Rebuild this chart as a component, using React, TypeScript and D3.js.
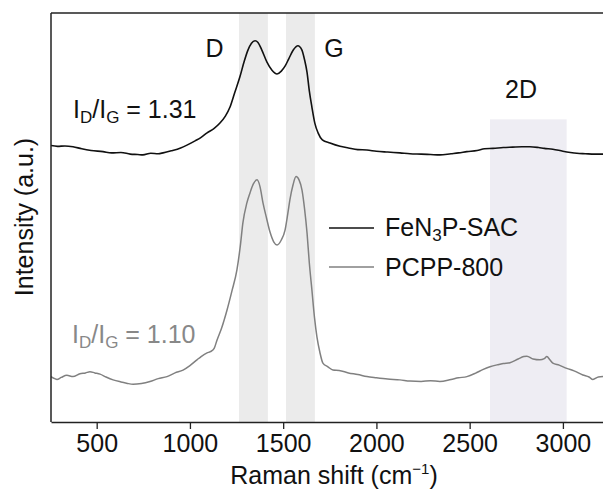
import React, { useEffect, useRef } from "react";
import * as d3 from "d3";

const W = 603;
const H = 493;

// Raman shift (cm^-1) and intensity (a.u., offset)
const fenWave = [255, 290, 330, 373, 420, 470, 534, 580, 630, 680, 720, 748, 790, 830, 856, 900, 950, 984, 1030, 1060, 1092, 1130, 1161, 1190, 1215, 1240, 1268, 1290, 1310, 1330, 1349, 1365, 1385, 1413, 1440, 1467, 1490, 1510, 1530, 1555, 1579, 1600, 1615, 1628, 1640, 1654, 1670, 1687, 1710, 1751, 1805, 1850, 1900, 1949, 2000, 2060, 2126, 2180, 2240, 2290, 2340, 2400, 2440, 2485, 2540, 2580, 2625, 2680, 2730, 2780, 2823, 2870, 2900, 2946, 3000, 3040, 3075, 3120, 3170, 3215];
const fenVal = [67.6, 67.4, 67.5, 67.3, 66.8, 66.4, 66.1, 65.8, 65.9, 65.5, 65.4, 65.3, 65.7, 65.6, 65.8, 66.3, 67.0, 67.7, 68.8, 69.6, 70.7, 71.8, 73.1, 74.8, 77.0, 80.5, 84.4, 88.0, 90.8, 92.6, 93.2, 92.8, 91.0, 88.0, 86.0, 85.1, 85.8, 87.0, 88.8, 91.0, 92.0, 91.0, 88.5, 85.5, 81.0, 77.0, 73.0, 70.7, 69.0, 68.2, 67.4, 67.0, 66.6, 66.5, 66.2, 66.0, 65.8, 65.6, 65.5, 65.4, 65.3, 65.6, 65.8, 66.1, 66.4, 66.8, 66.9, 67.1, 67.2, 67.3, 67.3, 67.1, 66.9, 66.7, 66.2, 65.9, 65.7, 65.6, 65.5, 65.5];

const pcppWave = [255, 275, 287, 310, 340, 373, 410, 440, 464, 490, 518, 550, 588, 630, 660, 695, 740, 786, 830, 877, 920, 963, 1000, 1038, 1060, 1092, 1110, 1130, 1145, 1170, 1199, 1225, 1252, 1270, 1284, 1305, 1322, 1340, 1360, 1376, 1392, 1410, 1429, 1450, 1467, 1490, 1510, 1525, 1536, 1553, 1569, 1585, 1601, 1615, 1628, 1640, 1654, 1668, 1681, 1697, 1713, 1740, 1767, 1800, 1850, 1900, 1949, 2000, 2060, 2126, 2180, 2240, 2290, 2340, 2400, 2440, 2485, 2530, 2570, 2609, 2650, 2680, 2716, 2760, 2790, 2807, 2840, 2877, 2900, 2914, 2930, 2946, 2980, 3021, 3060, 3107, 3140, 3161, 3190, 3215];
const pcppVal = [11.1, 10.6, 10.4, 10.9, 11.4, 11.1, 11.8, 12.0, 12.3, 12.0, 11.7, 11.0, 10.3, 9.8, 9.5, 9.2, 9.4, 9.9, 10.6, 11.1, 12.0, 12.7, 13.8, 15.2, 16.0, 16.9, 17.2, 18.0, 20.0, 23.0, 27.4, 32.0, 37.2, 43.0, 48.7, 53.5, 56.0, 58.2, 59.2, 57.5, 53.5, 50.0, 46.5, 44.0, 43.3, 44.5, 46.9, 51.0, 54.3, 58.0, 60.0, 59.2, 56.7, 52.0, 46.2, 39.0, 32.3, 25.5, 20.8, 17.0, 14.4, 13.5, 12.7, 12.6, 12.0, 11.6, 11.1, 10.8, 10.5, 10.3, 10.0, 9.9, 10.1, 9.9, 10.4, 10.8, 11.1, 11.9, 12.8, 13.5, 14.0, 14.3, 14.5, 15.4, 16.0, 16.1, 15.4, 15.2, 15.5, 16.0, 15.2, 14.4, 13.9, 13.1, 12.5, 11.5, 11.0, 10.4, 11.0, 11.1];

const xTicks = [500, 1000, 1500, 2000, 2500, 3000];
const bandD = [1263, 1418];
const bandG = [1515, 1670];
const band2D = [2609, 3020];
const band2DTop = 74; // intensity level where the 2D band ends

const seriesNames = ["FeN3P-SAC", "PCPP-800"];
const seriesColors = ["#111111", "#808080"];

const FONT = "'Liberation Sans', Arial, Helvetica, sans-serif";
const FS = 25;

export default function App() {
  const ref = useRef<SVGSVGElement>(null);

  useEffect(() => {
    const svg = d3.select(ref.current);
    svg.selectAll("*").remove();

    const left = 51, right = 603, top = 13, bottom = 422;
    const x = d3.scaleLinear().domain([255, 3215]).range([left, right]);
    const y = d3.scaleLinear().domain([0, 100]).range([bottom, top]);

    svg.append("defs").append("clipPath").attr("id", "plotclip")
      .append("rect").attr("x", left).attr("y", top).attr("width", right - left).attr("height", bottom - top);

    // bands
    svg.append("rect").attr("x", x(bandD[0])).attr("y", top).attr("width", x(bandD[1]) - x(bandD[0])).attr("height", bottom - top).attr("fill", "#ebebeb");
    svg.append("rect").attr("x", x(bandG[0])).attr("y", top).attr("width", x(bandG[1]) - x(bandG[0])).attr("height", bottom - top).attr("fill", "#ebebeb");
    svg.append("rect").attr("x", x(band2D[0])).attr("y", y(band2DTop)).attr("width", x(band2D[1]) - x(band2D[0])).attr("height", bottom - y(band2DTop)).attr("fill", "#eeedf3");

    const line = d3.line<[number, number]>().x(d => x(d[0])).y(d => y(d[1])).curve(d3.curveMonotoneX);
    const g = svg.append("g").attr("clip-path", "url(#plotclip)");
    const fen = fenWave.map((w, i) => [w, fenVal[i]] as [number, number]);
    const pc = pcppWave.map((w, i) => [w, pcppVal[i]] as [number, number]);
    g.append("path").attr("d", line(pc)).attr("fill", "none").attr("stroke", seriesColors[1]).attr("stroke-width", 1.5);
    g.append("path").attr("d", line(fen)).attr("fill", "none").attr("stroke", seriesColors[0]).attr("stroke-width", 1.6);

    // frame
    svg.append("line").attr("x1", left).attr("x2", right).attr("y1", top).attr("y2", top).attr("stroke", "#222").attr("stroke-width", 1.5);
    svg.append("line").attr("x1", left).attr("x2", left).attr("y1", top).attr("y2", bottom).attr("stroke", "#222").attr("stroke-width", 1.5);

    const ax = svg.append("g").attr("transform", `translate(0,${bottom})`)
      .call(d3.axisBottom(x).tickValues(xTicks).tickSize(7).tickSizeOuter(0).tickPadding(5).tickFormat(d3.format("d")));
    ax.select(".domain").attr("stroke", "#222").attr("stroke-width", 1.5);
    ax.selectAll(".tick line").attr("stroke", "#222").attr("stroke-width", 1.3);
    ax.selectAll(".tick text").attr("font-family", FONT).attr("font-size", FS).attr("fill", "#111");

    // axis titles
    const xt = svg.append("text").attr("x", 334).attr("y", 484).attr("text-anchor", "middle")
      .attr("font-family", FONT).attr("font-size", FS).attr("fill", "#111");
    xt.append("tspan").text("Raman shift (cm");
    xt.append("tspan").attr("font-size", 15).attr("dy", -10).text("\u22121");
    xt.append("tspan").attr("dy", 10).text(")");

    svg.append("text").attr("transform", "translate(33,217) rotate(-90)").attr("text-anchor", "middle")
      .attr("font-family", FONT).attr("font-size", FS).attr("fill", "#111").text("Intensity (a.u.)");

    // peak labels
    const lab = (t: string, cx: number, by: number) =>
      svg.append("text").attr("x", cx).attr("y", by).attr("text-anchor", "middle")
        .attr("font-family", FONT).attr("font-size", FS).attr("fill", "#111").text(t);
    lab("D", 214.5, 57);
    lab("G", 334, 57);
    lab("2D", 521, 98);

    // ratio annotations
    const ratio = (val: string, tx: number, by: number, color: string) => {
      const t = svg.append("text").attr("x", tx).attr("y", by)
        .attr("font-family", FONT).attr("font-size", FS).attr("fill", color);
      t.append("tspan").text("I");
      t.append("tspan").attr("font-size", 17).attr("dy", 5).text("D");
      t.append("tspan").attr("dy", -5).text("/I");
      t.append("tspan").attr("font-size", 17).attr("dy", 5).text("G");
      t.append("tspan").attr("dy", -5).text(" = " + val);
    };
    ratio("1.31", 73, 118, "#111");
    ratio("1.10", 72, 343, "#888");

    // legend
    const legY = [228, 267];
    legY.forEach((ly, i) => {
      svg.append("line").attr("x1", 329).attr("x2", 374).attr("y1", ly).attr("y2", ly)
        .attr("stroke", seriesColors[i]).attr("stroke-width", 1.6);
    });
    const t1 = svg.append("text").attr("x", 385).attr("y", 236).attr("font-family", FONT).attr("font-size", FS).attr("fill", "#111");
    t1.append("tspan").text("FeN");
    t1.append("tspan").attr("font-size", 17).attr("dy", 5).text("3");
    t1.append("tspan").attr("dy", -5).text("P-SAC");
    svg.append("text").attr("x", 385).attr("y", 276).attr("font-family", FONT).attr("font-size", FS).attr("fill", "#111").text(seriesNames[1]);
  }, []);

  return (
    <svg ref={ref} width={W} height={H} style={{ position: "absolute", left: 0, top: 0, background: "#fff" }} />
  );
}
